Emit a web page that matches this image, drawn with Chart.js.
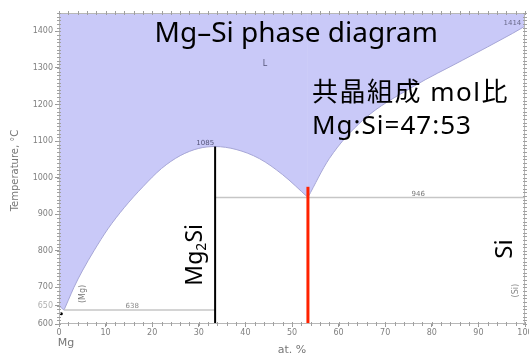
<!DOCTYPE html>
<html>
<head>
<meta charset="utf-8">
<script src="https://cdn.jsdelivr.net/npm/chart.js@4.4.1/dist/chart.umd.min.js"></script>
<style>
  html, body { margin: 0; padding: 0; background: #fff; }
  canvas { display: block; }
</style>
</head>
<body>
<canvas id="phaseChart" width="529" height="356"></canvas>
<script>
// Mg-Si phase diagram (at.% Si vs temperature)
const xTicks = [0, 10, 20, 30, 40, 50, 60, 70, 80, 90, 100];
const yTicks = [600, 650, 700, 800, 900, 1000, 1100, 1200, 1300, 1400];

// liquidus, split at the two eutectics so the corners stay sharp
const liqMgX = [0, 1.07];
const liqMgT = [650, 638];
const liqMidX = [1.07, 2.0, 3.2, 5.0, 7.5, 10.5, 14.0, 18.0, 22.0, 26.0, 30.0, 33.5, 38.0, 43.0, 48.0, 53.42];
const liqMidT = [638, 665, 700, 745, 800, 860, 918, 975, 1025, 1060, 1080, 1085, 1077, 1052, 1008, 946];
const liqSiX = [53.42, 58.0, 65.2, 75.9, 86.6, 97.3, 100];
const liqSiT = [946, 1052, 1157, 1248, 1321, 1394, 1414];

// invariant lines
const eut638X = [1.07, 33.5];
const eut638T = [638, 638];
const eut946X = [33.5, 100];
const eut946T = [946, 946];
const mg2siX = [33.5, 33.5];
const mg2siT = [600, 1085];
const markX = [53.42, 53.42];
const markT = [600, 975];

const toPts = (xs, ts) => xs.map((x, i) => ({ x: x, y: ts[i] }));

const fillColor = '#c9c9f8';
const edgeColor = '#a6a6d6';
const tickColor = '#808080';
const bigFont = '"Noto Sans", "Noto Sans CJK JP", sans-serif';
const smallFont = '"DejaVu Sans", sans-serif';

function liqDataset(xs, ts) {
    return {
        data: toPts(xs, ts),
        borderColor: edgeColor,
        borderWidth: 1,
        backgroundColor: fillColor,
        fill: 'end',
        cubicInterpolationMode: 'monotone',
        pointRadius: 0,
        order: 5
    };
}

function lineDataset(xs, ts, color, width, order) {
    return {
        data: toPts(xs, ts),
        borderColor: color,
        borderWidth: width,
        fill: false,
        tension: 0,
        pointRadius: 0,
        order: order
    };
}

// frame, minor ticks and all the text on the diagram
const phaseLabels = {
    id: 'phaseLabels',
    afterDatasetsDraw(chart) {
        const ctx = chart.ctx;
        const sx = chart.scales.x;
        const sy = chart.scales.y;
        const area = chart.chartArea;

        ctx.save();
        ctx.strokeStyle = '#b8b8b8';
        ctx.lineWidth = 1;
        ctx.strokeRect(area.left + 0.5, area.top + 0.5, area.right - area.left - 1, area.bottom - area.top - 1);
        ctx.strokeStyle = '#a0a0a0';
        ctx.beginPath();
        for (let v = 0; v <= 100; v += 2) {
            const x = Math.round(sx.getPixelForValue(v)) + 0.5;
            ctx.moveTo(x, area.bottom - 2); ctx.lineTo(x, area.bottom + 2);
            ctx.moveTo(x, area.top - 2); ctx.lineTo(x, area.top + 2);
        }
        for (let v = 600; v <= 1450; v += 10) {
            const y = Math.round(sy.getPixelForValue(v)) + 0.5;
            ctx.moveTo(area.left - 2, y); ctx.lineTo(area.left + 2, y);
            ctx.moveTo(area.right - 2, y); ctx.lineTo(area.right + 2, y);
        }
        ctx.stroke();

        const put = (str, x, t, font, color, align, rot, spacing) => {
            ctx.save();
            ctx.translate(sx.getPixelForValue(x), sy.getPixelForValue(t));
            if (rot) ctx.rotate(-Math.PI / 2);
            ctx.font = font;
            ctx.fillStyle = color;
            ctx.textAlign = align || 'left';
            ctx.textBaseline = rot ? 'middle' : 'alphabetic';
            ctx.letterSpacing = spacing || '0px';
            ctx.fillText(str, 0, 0);
            ctx.restore();
        };

        // big annotations
        put('Mg\u2013Si phase diagram', 20.5, 1371, '28px ' + bigFont, '#000');
        put('共晶組成 mol比', 54.3, 1210, '26px ' + bigFont, '#000', 'left', false, '1.5px');
        put('Mg:Si=47:53', 54.3, 1119, '26px ' + bigFont, '#000', 'left', false, '1px');
        put('Si', 95.7, 805, '24px ' + bigFont, '#000', 'center', true);

        // Mg2Si with subscript, written upwards
        ctx.save();
        ctx.translate(sx.getPixelForValue(29.3), sy.getPixelForValue(789));
        ctx.rotate(-Math.PI / 2);
        ctx.fillStyle = '#000';
        ctx.textBaseline = 'middle';
        ctx.font = '23px ' + bigFont;
        const wMg = ctx.measureText('Mg').width;
        const wSi = ctx.measureText('Si').width;
        ctx.font = '14px ' + bigFont;
        const w2 = ctx.measureText('2').width;
        let cx = -(wMg + w2 + wSi) / 2;
        ctx.font = '23px ' + bigFont;
        ctx.textAlign = 'left';
        ctx.fillText('Mg', cx, 0);
        cx += wMg;
        ctx.font = '14px ' + bigFont;
        ctx.fillText('2', cx, 6);
        cx += w2;
        ctx.font = '23px ' + bigFont;
        ctx.fillText('Si', cx, 0);
        ctx.restore();

        // small labels
        put('L', 44.2, 1306, '8px ' + smallFont, '#55557a', 'center');
        put('1085', 33.3, 1090, '7px ' + smallFont, '#55557a', 'right');
        put('1414', 97.3, 1417, '7px ' + smallFont, '#6a6a8a', 'center');
        put('946', 77.1, 950, '7px ' + smallFont, '#777', 'center');
        put('638', 15.7, 645, '7px ' + smallFont, '#888', 'center');
        put('(Mg)', 5.1, 682, '8px ' + smallFont, '#777', 'center', true);
        put('(Si)', 98.0, 691, '8px ' + smallFont, '#888', 'center', true);

        // axis captions
        ctx.font = '11px ' + smallFont;
        ctx.fillStyle = '#777';
        ctx.textAlign = 'center';
        ctx.textBaseline = 'middle';
        ctx.fillText('Mg', sx.getPixelForValue(1.5), area.bottom + 19);
        ctx.fillText('at. %', (area.left + area.right) / 2, area.bottom + 26);
        ctx.save();
        ctx.translate(15, (area.top + area.bottom) / 2 + 2);
        ctx.rotate(-Math.PI / 2);
        ctx.font = '10px ' + smallFont;
        ctx.fillText('Temperature, \u00b0C', 0, 0);
        ctx.restore();

        ctx.restore();
    }
};

const chart = new Chart(document.getElementById('phaseChart').getContext('2d'), {
    type: 'line',
    data: {
        datasets: [
            lineDataset(markX, markT, '#ff2200', 3, 1),
            lineDataset(mg2siX, mg2siT, '#000000', 2, 2),
            lineDataset(eut638X, eut638T, '#c6c6c6', 1.5, 3),
            lineDataset(eut946X, eut946T, '#c6c6c6', 1.5, 3),
            {
                data: [{ x: 0.5, y: 628 }],
                showLine: false,
                pointRadius: 1.5,
                pointBackgroundColor: '#000',
                pointBorderWidth: 0,
                order: 0
            },
            liqDataset(liqMgX, liqMgT),
            liqDataset(liqMidX, liqMidT),
            liqDataset(liqSiX, liqSiT)
        ]
    },
    options: {
        responsive: false,
        animation: false,
        layout: { padding: { top: 13, right: 2, left: 0, bottom: 0 } },
        plugins: {
            legend: { display: false },
            tooltip: { enabled: false }
        },
        scales: {
            x: {
                type: 'linear',
                min: 0,
                max: 100,
                afterBuildTicks: s => { s.ticks = xTicks.map(v => ({ value: v })); },
                afterFit: s => { s.height = 32; s.paddingLeft = 0; s.paddingRight = 0; },
                grid: { drawOnChartArea: false, drawTicks: true, tickLength: 3, color: '#999' },
                border: { display: false },
                ticks: {
                    padding: 1,
                    maxRotation: 0,
                    autoSkip: false,
                    color: tickColor,
                    font: { family: 'DejaVu Sans', size: 8 },
                    callback: v => String(v)
                }
            },
            y: {
                type: 'linear',
                min: 600,
                max: 1450,
                afterBuildTicks: s => { s.ticks = yTicks.map(v => ({ value: v })); },
                afterFit: s => { s.width = 59; s.paddingTop = 0; s.paddingBottom = 0; },
                grid: { drawOnChartArea: false, drawTicks: true, tickLength: 4, color: '#999' },
                border: { display: false },
                ticks: {
                    padding: 2,
                    autoSkip: false,
                    color: c => (c.tick && c.tick.value === 650) ? '#b0b0b0' : tickColor,
                    font: { family: 'DejaVu Sans', size: 8 },
                    callback: v => String(v)
                }
            }
        }
    },
    plugins: [phaseLabels]
});
</script>
</body>
</html>
